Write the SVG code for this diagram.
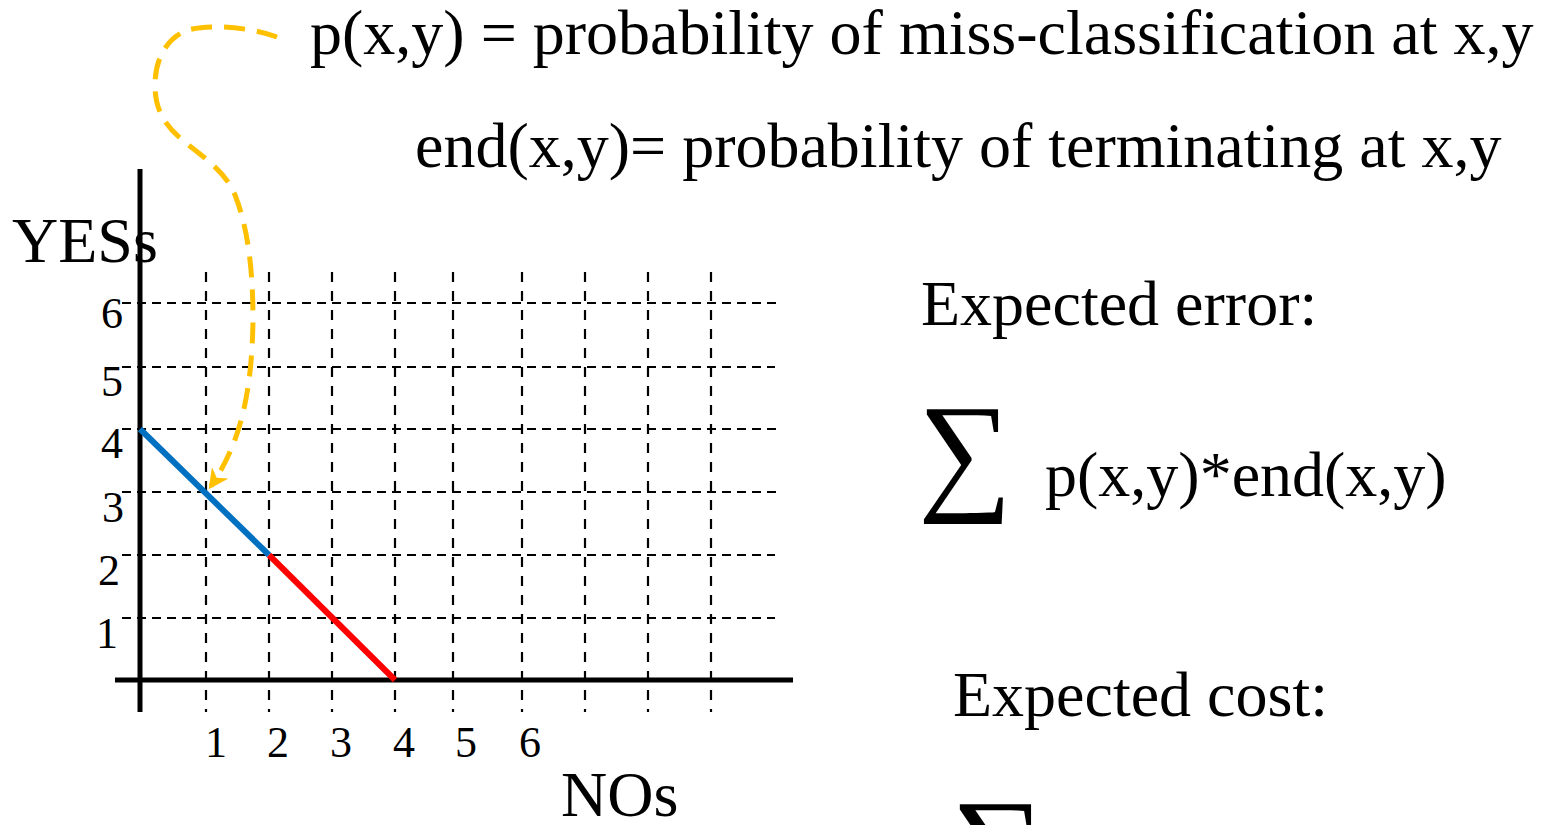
<svg xmlns="http://www.w3.org/2000/svg" width="1542" height="825" viewBox="0 0 1542 825">
  <style>
    .t { font-family: "Liberation Serif", "Times New Roman", serif; fill: #000; }
    .big { font-size: 64px; }
    .tick { font-size: 44px; }
    .gh { stroke: #000; stroke-width: 2.2; stroke-dasharray: 9 6; fill: none; }
    .gv { stroke: #000; stroke-width: 2.2; stroke-dasharray: 10 9; fill: none; }
    .axis { stroke: #000; stroke-width: 5; fill: none; }
  </style>
  <defs>
    <marker id="arrowY" viewBox="0 0 10 10" refX="8" refY="5" markerWidth="4" markerHeight="4" orient="auto" markerUnits="strokeWidth">
      <path d="M0,0 L10,5 L0,10 L3,5 Z" fill="#FFC000"/>
    </marker>
  </defs>
  <rect width="1542" height="825" fill="#fff"/>

  <g id="grid">
    <line class="gh" x1="122" y1="303" x2="778" y2="303"/>
    <line class="gh" x1="122" y1="367" x2="775" y2="367"/>
    <line class="gh" x1="122" y1="429" x2="778" y2="429"/>
    <line class="gh" x1="122" y1="492" x2="778" y2="492"/>
    <line class="gh" x1="122" y1="555" x2="775" y2="555"/>
    <line class="gh" x1="122" y1="618" x2="775" y2="618"/>
    <line class="gv" x1="206" y1="272" x2="206" y2="712"/>
    <line class="gv" x1="269" y1="272" x2="269" y2="712"/>
    <line class="gv" x1="332" y1="272" x2="332" y2="712"/>
    <line class="gv" x1="395" y1="272" x2="395" y2="712"/>
    <line class="gv" x1="453" y1="272" x2="453" y2="712"/>
    <line class="gv" x1="522" y1="272" x2="522" y2="712"/>
    <line class="gv" x1="585" y1="272" x2="585" y2="712"/>
    <line class="gv" x1="648" y1="272" x2="648" y2="712"/>
    <line class="gv" x1="711" y1="272" x2="711" y2="712"/>
  </g>

  <g id="axes">
    <line class="axis" x1="140" y1="169" x2="140" y2="712"/>
    <line class="axis" x1="115" y1="680" x2="793" y2="680"/>
  </g>

  <g id="boundary">
    <line x1="140" y1="429" x2="269" y2="555" stroke="#0070C0" stroke-width="6"/>
    <line x1="269" y1="555" x2="395" y2="680" stroke="#FF0000" stroke-width="6"/>
  </g>

  <g id="connectors">
    <path d="M277,37 C250,27 210,24 188,30 C166,38 155,60 155,85 C155,110 165,125 180,138 C200,155 225,170 235,195 C248,228 253,270 253,320 C252,385 243,440 211,486" fill="none" stroke="#FFC000" stroke-width="5" stroke-dasharray="21 12" marker-end="url(#arrowY)"/>
  </g>

  <g id="y-ticks" class="t tick">
    <text x="101" y="328">6</text>
    <text x="101" y="396">5</text>
    <text x="101" y="458">4</text>
    <text x="102" y="522">3</text>
    <text x="98" y="585">2</text>
    <text x="96" y="648">1</text>
  </g>
  <g id="x-ticks" class="t tick">
    <text x="205" y="757">1</text>
    <text x="267" y="757">2</text>
    <text x="330" y="757">3</text>
    <text x="393" y="757">4</text>
    <text x="455" y="757">5</text>
    <text x="519" y="757">6</text>
  </g>

  <g id="label-yes"><text class="t big" x="12" y="262">YESs</text></g>
  <g id="label-no"><text class="t big" x="561" y="816">NOs</text></g>

  <g id="def-p"><text class="t big" x="310" y="54">p(x,y) = probability of miss-classification at x,y</text></g>
  <g id="def-end"><text class="t big" x="415" y="167">end(x,y)= probability of terminating at x,y</text></g>

  <g id="expected-error">
    <text class="t big" x="921" y="325">Expected error:</text>
    <text class="t" x="918" y="496" font-size="132">∑</text>
    <text class="t big" x="1045" y="496">p(x,y)*end(x,y)</text>
  </g>

  <g id="expected-cost">
    <text class="t big" x="953" y="716">Expected cost:</text>
    <text class="t" x="951" y="891" font-size="132">∑</text>
  </g>
</svg>
